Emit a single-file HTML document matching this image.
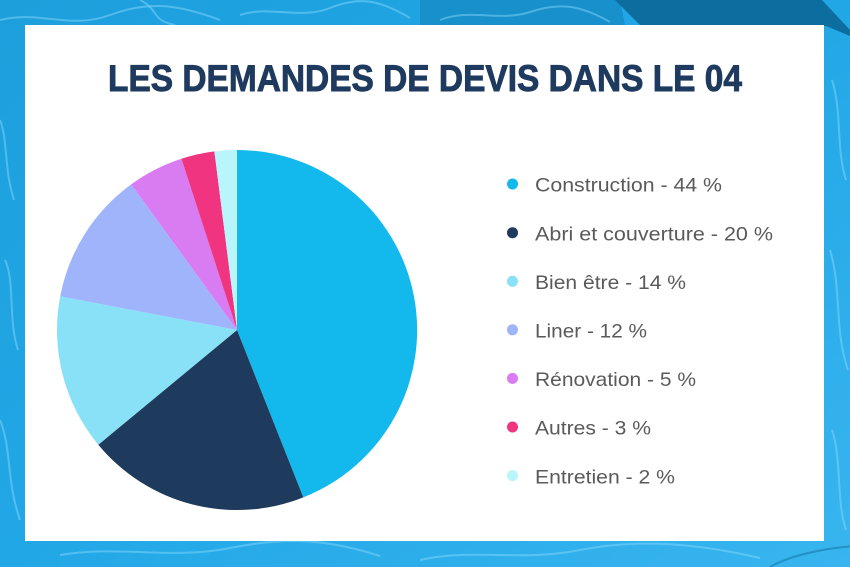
<!DOCTYPE html>
<html>
<head>
<meta charset="utf-8">
<style>
  html,body{margin:0;padding:0;width:850px;height:567px;overflow:hidden;background:#22a6e4;}
  svg{display:block;}
</style>
</head>
<body>
<svg width="850" height="567" viewBox="0 0 850 567" xmlns="http://www.w3.org/2000/svg">
  <defs>
    <linearGradient id="bg" x1="0" y1="0" x2="1" y2="1">
      <stop offset="0" stop-color="#1d9fdc"/>
      <stop offset="0.5" stop-color="#22a7e6"/>
      <stop offset="1" stop-color="#38b5ef"/>
    </linearGradient>
  </defs>
  <!-- water background -->
  <rect x="0" y="0" width="850" height="567" fill="url(#bg)"/>
  <path d="M420,0 L620,0 L625,25 L420,25 Z" fill="#1790cb"/>
  <path d="M615,0 L822,0 L850,30 L850,36 L826,26 L800,25 L640,25 Z" fill="#0d6d9e"/>
  <g fill="none" stroke="#8fdcff" stroke-opacity="0.45" stroke-width="2">
    <path d="M0,20 C40,10 70,30 110,15 S180,5 220,20"/>
    <path d="M140,0 C160,10 150,20 175,25"/>
    <path d="M240,15 C270,5 300,20 330,8 S380,0 410,18"/>
    <path d="M440,20 C470,8 500,22 530,12 S580,5 610,22"/>
    <path d="M0,120 C8,140 4,170 14,200"/>
    <path d="M5,260 C15,280 8,320 18,350"/>
    <path d="M0,420 C12,450 6,480 20,520"/>
    <path d="M60,555 C120,545 170,560 230,548 S330,540 380,556"/>
    <path d="M420,560 C470,548 520,562 580,550 S700,544 760,558"/>
    <path d="M832,80 C842,110 836,150 846,180"/>
    <path d="M830,250 C842,290 834,330 848,370"/>
    <path d="M832,430 C842,460 836,500 846,530"/>
  </g>
  <path d="M770,567 C800,550 850,545 880,545" stroke="#0d6d9e" stroke-width="2" fill="none" opacity="0.5"/>

  <!-- white card -->
  <rect x="25" y="25" width="799" height="516" fill="#ffffff"/>

  <!-- title -->
  <text x="108" y="91" font-family="'Liberation Sans', sans-serif" font-weight="bold" font-size="37" fill="#1f3a5f" stroke="#1f3a5f" stroke-width="0.9" textLength="634" lengthAdjust="spacingAndGlyphs">LES DEMANDES DE DEVIS DANS LE 04</text>

  <!-- pie -->
  <g>
    <path d="M237,330 L237,150 A180,180 0 0 1 303.3,497.4 Z" fill="#13b9ec"/>
    <path d="M237,330 L303.3,497.4 A180,180 0 0 1 98.3,444.7 Z" fill="#1e3a5c"/>
    <path d="M237,330 L98.3,444.7 A180,180 0 0 1 60.2,296.3 Z" fill="#88e1f7"/>
    <path d="M237,330 L60.2,296.3 A180,180 0 0 1 131.2,184.4 Z" fill="#9fb4fb"/>
    <path d="M237,330 L131.2,184.4 A180,180 0 0 1 181.4,158.8 Z" fill="#d97bf1"/>
    <path d="M237,330 L181.4,158.8 A180,180 0 0 1 214.4,151.4 Z" fill="#f0347f"/>
    <path d="M237,330 L214.4,151.4 A180,180 0 0 1 237,150 Z" fill="#b9f6fc"/>
  </g>

  <!-- legend -->
  <g font-family="'Liberation Sans', sans-serif" font-size="19.5" fill="#5a5a5a">
    <circle cx="512.5" cy="184" r="5.5" fill="#13b9ec"/>
    <text x="535" y="191.7" textLength="187" lengthAdjust="spacingAndGlyphs">Construction - 44 %</text>

    <circle cx="512.5" cy="232.7" r="5.5" fill="#1e3a5c"/>
    <text x="535" y="240.5" textLength="238" lengthAdjust="spacingAndGlyphs">Abri et couverture - 20 %</text>

    <circle cx="512.5" cy="281.3" r="5.5" fill="#88e1f7"/>
    <text x="535" y="289" textLength="151" lengthAdjust="spacingAndGlyphs">Bien être - 14 %</text>

    <circle cx="512.5" cy="329.8" r="5.5" fill="#9fb4fb"/>
    <text x="535" y="337.5" textLength="112" lengthAdjust="spacingAndGlyphs">Liner - 12 %</text>

    <circle cx="512.5" cy="378.4" r="5.5" fill="#d97bf1"/>
    <text x="535" y="386" textLength="161" lengthAdjust="spacingAndGlyphs">Rénovation - 5 %</text>

    <circle cx="512.5" cy="427" r="5.5" fill="#f0347f"/>
    <text x="535" y="434.7" textLength="116" lengthAdjust="spacingAndGlyphs">Autres - 3 %</text>

    <circle cx="512.5" cy="475.6" r="5.5" fill="#b9f6fc"/>
    <text x="535" y="483.3" textLength="140" lengthAdjust="spacingAndGlyphs">Entretien - 2 %</text>
  </g>
</svg>
</body>
</html>
